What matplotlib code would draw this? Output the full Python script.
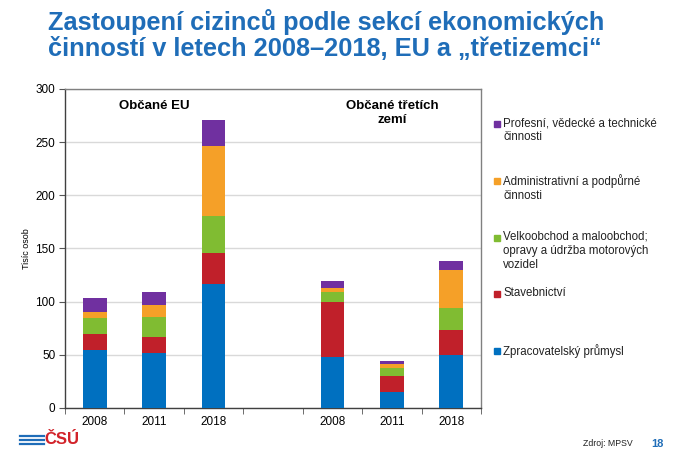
import matplotlib
matplotlib.use("Agg")
import matplotlib.pyplot as plt
from matplotlib.patches import Rectangle
from matplotlib.lines import Line2D
import numpy as np

plt.rcParams['font.family'] = ['Liberation Sans', 'DejaVu Sans']

categories = ["2008", "2011", "2018", "", "2008", "2011", "2018"]
series_names = [
    "Zpracovatelský průmysl",
    "Stavebnictví",
    "Velkoobchod a maloobchod;\nopravy a údržba motorových\nvozidel",
    "Administrativní a podpůrné\nčinnosti",
    "Profesní, vědecké a technické\nčinnosti",
]
colors = ["#0070C0", "#C0202A", "#80BC32", "#F5A028", "#7030A0"]

zpracovatelsky = [55, 52, 117, np.nan, 48, 15.5, 50]
stavebnictvi = [15, 15, 29, np.nan, 52, 15, 23]
obchod = [15, 18.5, 35, np.nan, 9, 7, 21.5]
administrativni = [5, 11, 65, np.nan, 4, 3.5, 35.5]
profesni = [13.5, 12.5, 25, np.nan, 6.5, 3, 8]
values = [zpracovatelsky, stavebnictvi, obchod, administrativni, profesni]

fig = plt.figure(figsize=(6.82, 4.63), dpi=100)
fig.patch.set_facecolor("white")
ax = fig.add_axes([65/682, 1-408/463, 416/682, 319/463])

x = np.arange(len(categories))
bottom = np.zeros(len(categories))
for vals, col in zip(values, colors):
    v = np.nan_to_num(np.array(vals, dtype=float))
    ax.bar(x, v, bottom=bottom, width=0.4, color=col, zorder=3)
    bottom += v

ax.set_xlim(-0.5, len(categories) - 0.5)
ax.set_ylim(0, 300)
ax.set_yticks(np.arange(0, 301, 50))
ax.tick_params(axis='y', labelsize=8.5, length=4, color="#555555", pad=3)
ax.set_xticks(x)
ax.set_xticklabels(categories, fontsize=8.5)
ax.tick_params(axis='x', length=0, pad=6)
ax.set_xticks(np.arange(-0.5, len(categories), 1), minor=True)
ax.tick_params(axis='x', which='minor', length=4, color="#555555")
ax.grid(axis='y', color="#D9D9D9", linewidth=1, zorder=0)
for s in ax.spines.values():
    s.set_color("#808080")
    s.set_linewidth(1)
ax.spines['bottom'].set_color("#404040")
ax.spines['left'].set_color("#404040")
ax.set_ylabel("Tisíc osob", fontsize=6.5, labelpad=3)

ax.text(1, 290, "Občané EU", ha='center', va='top', fontsize=9.5, fontweight='bold')
ax.text(5.0, 290, "Občané třetích\nzemí", ha='center', va='top', fontsize=9.5,
        fontweight='bold', linespacing=1.3)

# legend (manual, top entry first)
legend_tops = [350, 293, 237, 180, 123]
for name, col, ytop in zip(series_names, colors, legend_tops):
    fig.patches.append(Rectangle(((494)/682, 1-(ytop+4)/463), 6/682, 6/463,
                                 transform=fig.transFigure, color=col))
    fig.text(503/682, 1-(ytop-6)/463, name, ha='left', va='top', fontsize=8.3,
             color="#222222", linespacing=1.2)

# title
fig.text(48/682, 1-9/463, "Zastoupení cizinců podle sekcí ekonomických\nčinností v letech 2008–2018, EU a „třetizemci“",
         ha='left', va='top', fontsize=18.3, fontweight='bold', color="#1F6DB8",
         linespacing=1.12)

# footer
for dy in (0, 4, 8):
    fig.add_artist(Line2D([20/682, 44/682], [1-(436+dy)/463]*2, color="#1F6DB8",
                          linewidth=1.6, transform=fig.transFigure))
fig.text(44/682, 1-440/463, "ČSÚ", ha='left', va='center', fontsize=12,
         fontweight='bold', color="#D2232A")
fig.text(633/682, 1-443/463, "Zdroj: MPSV", ha='right', va='center', fontsize=6.3,
         color="#222222")
fig.text(651/682, 1-444/463, "18", ha='left', va='center', fontsize=8,
         fontweight='bold', color="#1F6DB8")

fig.savefig("out.png", dpi=100, facecolor="white")
